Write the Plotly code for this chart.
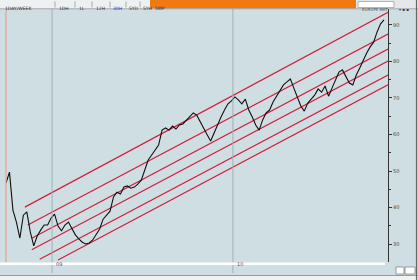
import plotly.graph_objects as go
import pandas as pd

# ---------------- data ----------------
start_date = "2008-09-30"
price = [46.7, 49.7, 39.3, 36.0, 31.6, 37.9, 38.8, 33.3, 29.5, 32.2,
         33.8, 35.2, 35.2, 37.1, 38.2, 34.9, 33.6, 35.2, 36.0, 34.1,
         32.5, 31.4, 30.5, 30.0, 30.3, 31.1, 32.5, 34.1, 36.8, 37.9,
         39.0, 42.9, 44.2, 43.7, 45.6, 45.9, 45.3, 45.6, 46.4, 47.5,
         50.3, 53.0, 54.4, 55.8, 57.1, 61.2, 61.8, 61.2, 62.3, 61.5,
         62.6, 62.9, 64.0, 64.8, 65.9, 65.3, 63.4, 61.8, 59.9, 58.2,
         60.4, 62.9, 64.8, 66.7, 68.4, 69.2, 70.3, 69.5, 68.4, 69.7,
         66.7, 64.8, 62.6, 61.2, 64.0, 65.9, 66.7, 68.9, 70.5, 72.2,
         73.6, 74.4, 75.2, 72.7, 70.0, 67.8, 66.4, 68.6, 69.7, 70.8,
         72.5, 71.6, 73.3, 70.5, 72.7, 74.9, 77.1, 77.7, 75.8, 74.1,
         73.6, 76.3, 78.2, 80.4, 82.3, 84.0, 85.3, 88.1, 90.3, 91.4]
dates = pd.date_range(start_date, periods=len(price), freq="7D")

# channel lines: (start date, start value, end date, end value)
chan_x0 = ["2008-11-07", "2008-11-13", "2008-11-21", "2008-11-21", "2008-12-07", "2009-01-13"]
chan_y0 = [40.1, 35.2, 31.6, 28.4, 25.8, 25.6]
chan_x1 = ["2010-11-10"] * 6
chan_y1 = [93.5, 87.5, 83.4, 80.1, 76.3, 73.6]

y_ticks = [30, 40, 50, 60, 70, 80, 90]
y_ticklabels = ["30", "40", "50", "60", "70", "80", "90"]
year_dates = ["2009-01-01", "2010-01-01"]
year_labels = ["09", "10"]
toolbar_labels = ["1DAY/WEEK", "1DH", "1L", "12H", "30H", "5YD", "5YH", "5MP"]

# ---------------- layout helpers ----------------
W, H = 418, 280
L, R, T, B = 6, 388, 9, 262
def px(x):
    return (x - L) / (R - L)
def py(y):
    return (B - y) / (B - T)

BG = "#cfdee3"

fig = go.Figure()
for i in range(len(chan_x0)):
    fig.add_trace(go.Scatter(x=[chan_x0[i], chan_x1[i]], y=[chan_y0[i], chan_y1[i]],
                             mode="lines", line=dict(color="#d21f3c", width=1.2),
                             hoverinfo="skip", showlegend=False))
fig.add_trace(go.Scatter(x=dates, y=price, mode="lines",
                         line=dict(color="#101010", width=1.1), showlegend=False))

shapes = []
# year grid lines
for d in year_dates:
    shapes.append(dict(type="line", xref="x", yref="paper", x0=d, x1=d,
                       y0=py(273), y1=py(9), line=dict(color="#9fb0b8", width=1)))
# left salmon line
shapes.append(dict(type="line", xref="paper", yref="paper", x0=px(6), x1=px(6),
                   y0=py(262), y1=py(9), line=dict(color="#e8a08a", width=1.2)))
# top toolbar
shapes.append(dict(type="rect", xref="paper", yref="paper", x0=px(0), x1=px(150),
                   y0=py(8.5), y1=py(0), fillcolor="#eef1f2", line=dict(width=0)))
shapes.append(dict(type="rect", xref="paper", yref="paper", x0=px(150), x1=px(356),
                   y0=py(8.5), y1=py(0), fillcolor="#f07a12", line=dict(width=0)))
shapes.append(dict(type="rect", xref="paper", yref="paper", x0=px(356), x1=px(418),
                   y0=py(8.5), y1=py(0), fillcolor="#e4e8ea", line=dict(width=0)))
shapes.append(dict(type="rect", xref="paper", yref="paper", x0=px(358), x1=px(394),
                   y0=py(7.5), y1=py(1.5), fillcolor="#ffffff", line=dict(color="#8a8a8a", width=0.6)))
shapes.append(dict(type="line", xref="paper", yref="paper", x0=px(0), x1=px(418),
                   y0=py(8.8), y1=py(8.8), line=dict(color="#9a9a9a", width=0.8)))
# toolbar separators
for sx in [55, 75, 92, 110, 126, 140]:
    shapes.append(dict(type="line", xref="paper", yref="paper", x0=px(sx), x1=px(sx),
                       y0=py(7.5), y1=py(1.5), line=dict(color="#777", width=0.6)))
# bottom scroll bar and frame
shapes.append(dict(type="rect", xref="paper", yref="paper", x0=px(0), x1=px(385),
                   y0=py(265), y1=py(262.5), fillcolor="#ffffff", line=dict(width=0)))
shapes.append(dict(type="rect", xref="paper", yref="paper", x0=px(0), x1=px(418),
                   y0=py(280), y1=py(275.5), fillcolor="#f2f2f2", line=dict(width=0)))
shapes.append(dict(type="line", xref="paper", yref="paper", x0=px(0), x1=px(418),
                   y0=py(275.5), y1=py(275.5), line=dict(color="#888", width=0.8)))
shapes.append(dict(type="line", xref="paper", yref="paper", x0=px(416.5), x1=px(416.5),
                   y0=py(280), y1=py(0), line=dict(color="#666", width=1.2)))
shapes.append(dict(type="rect", xref="paper", yref="paper", x0=px(396), x1=px(404),
                   y0=py(274), y1=py(267), fillcolor="#ffffff", line=dict(color="#666", width=0.6)))
shapes.append(dict(type="rect", xref="paper", yref="paper", x0=px(405), x1=px(415),
                   y0=py(274), y1=py(267), fillcolor="#ffffff", line=dict(color="#666", width=0.6)))

annotations = []
for d, lab in zip(year_dates, year_labels):
    annotations.append(dict(x=d, xref="x", y=py(268.5), yref="paper", text=lab,
                            showarrow=False, xanchor="left", xshift=2,
                            font=dict(size=5, color="#555", family="DejaVu Sans")))
tb_x = [3, 57, 77, 94, 111, 127, 141, 153]
for tx, lab in zip(tb_x, toolbar_labels):
    annotations.append(dict(x=px(tx), xref="paper", y=py(4.3), yref="paper", text=lab,
                            showarrow=False, xanchor="left",
                            font=dict(size=4.5, color="#2233cc" if lab == "30H" else "#333",
                                      family="DejaVu Sans")))
annotations.append(dict(x=px(360), xref="paper", y=py(4.5), yref="paper", text="EUROPE MKT",
                        showarrow=False, xanchor="left",
                        font=dict(size=4, color="#555", family="DejaVu Sans")))
annotations.append(dict(x=px(397), xref="paper", y=py(4.5), yref="paper", text="▾ ▪ ▪",
                        showarrow=False, xanchor="left",
                        font=dict(size=4, color="#444", family="DejaVu Sans")))

fig.update_layout(
    width=W, height=H,
    margin=dict(l=L, r=W - R, t=T, b=H - B),
    paper_bgcolor=BG, plot_bgcolor=BG,
    shapes=shapes, annotations=annotations,
    xaxis=dict(type="date", range=["2008-09-30", "2010-11-10"], showgrid=False,
               showticklabels=False, zeroline=False, showline=False, ticks=""),
    yaxis=dict(side="right", range=[25.07, 94.38], showgrid=False, zeroline=False,
               tickvals=y_ticks, ticktext=y_ticklabels, ticks="outside", ticklen=3,
               tickcolor="#333", showline=True, linecolor="#333", linewidth=1,
               tickfont=dict(size=5, color="#444", family="DejaVu Sans"),
               minor=dict(dtick=5, tick0=25, ticks="outside", ticklen=2, tickcolor="#333")),
    font=dict(family="DejaVu Sans"),
)

fig.write_html("out.html")
